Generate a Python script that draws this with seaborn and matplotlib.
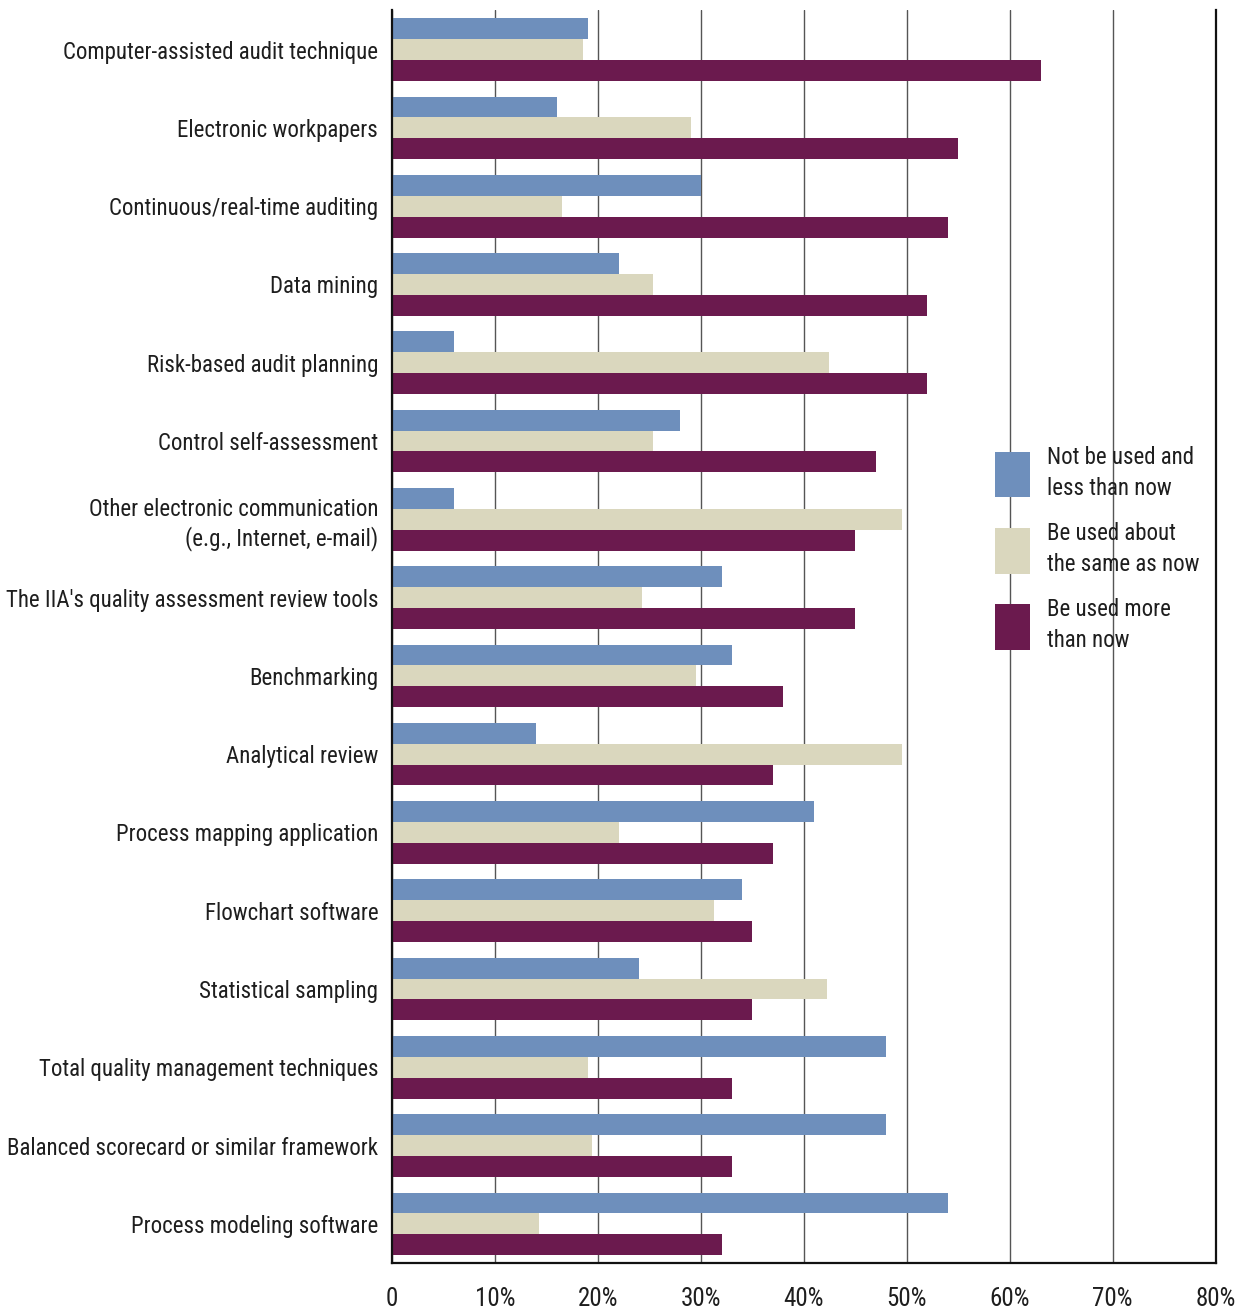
import matplotlib
matplotlib.use("Agg")
import matplotlib.pyplot as plt
import seaborn as sns
import pandas as pd

categories = [
    "Computer-assisted audit technique",
    "Electronic workpapers",
    "Continuous/real-time auditing",
    "Data mining",
    "Risk-based audit planning",
    "Control self-assessment",
    "Other electronic communication\n(e.g., Internet, e-mail)",
    "The IIA's quality assessment review tools",
    "Benchmarking",
    "Analytical review",
    "Process mapping application",
    "Flowchart software",
    "Statistical sampling",
    "Total quality management techniques",
    "Balanced scorecard or similar framework",
    "Process modeling software",
]
series_names = [
    "Not be used and\nless than now",
    "Be used about\nthe same as now",
    "Be used more\nthan now",
]
less_than_now = [19, 16, 30, 22, 6, 28, 6, 32, 33, 14, 41, 34, 24, 48, 48, 54]
same_as_now = [18.5, 29, 16.5, 25.3, 42.4, 25.3, 49.5, 24.3, 29.5, 49.5, 22, 31.3, 42.2, 19, 19.4, 14.3]
more_than_now = [63, 55, 54, 52, 52, 47, 45, 45, 38, 37, 37, 35, 35, 33, 33, 32]
tick_values = [0, 10, 20, 30, 40, 50, 60, 70, 80]
tick_labels = ["0", "10%", "20%", "30%", "40%", "50%", "60%", "70%", "80%"]
colors = ["#6E8FBC", "#DAD7BE", "#6B1A4E"]

rows = []
for name, vals in zip(series_names, [less_than_now, same_as_now, more_than_now]):
    for cat, v in zip(categories, vals):
        rows.append({"category": cat, "series": name, "value": v})
df = pd.DataFrame(rows)

sns.set_theme(style="white")
plt.rcParams["font.family"] = ["Roboto Condensed", "Roboto", "DejaVu Sans"]
plt.rcParams["font.stretch"] = "condensed"

fig = plt.figure(figsize=(12.47, 13.11), dpi=100)
ax = fig.add_axes([0.3144, 0.0366, 0.6605, 0.9554])

sns.barplot(data=df, y="category", x="value", hue="series", orient="h",
            palette=colors, saturation=1, width=0.8, order=categories,
            hue_order=series_names, ax=ax, zorder=2, linewidth=0)

ax.set_xlim(0, 80)
ax.set_xticks(tick_values)
ax.set_xticklabels(tick_labels)
ax.set_xlabel("")
ax.set_ylabel("")
ax.grid(axis="x", color="#555555", linewidth=1.0, zorder=0)
ax.grid(axis="y", visible=False)
ax.set_axisbelow(True)

for side in ["left", "bottom", "right"]:
    ax.spines[side].set_visible(True)
    ax.spines[side].set_color("#111111")
    ax.spines[side].set_linewidth(1.6)
ax.spines["top"].set_visible(False)

ax.tick_params(axis="both", length=0, colors="#1e1e1e")
ax.tick_params(axis="x", pad=17, labelsize=18)
ax.tick_params(axis="y", pad=10, labelsize=16.5)
for lbl in ax.get_yticklabels():
    lbl.set_linespacing(1.28)

handles, labels = ax.get_legend_handles_labels()
ax.legend(handles, labels, loc="upper left", bbox_to_anchor=(0.707, 0.669),
          frameon=False, fontsize=16.5, handlelength=1.53, handleheight=2.65,
          handletextpad=0.74, labelspacing=0.95)
for t in ax.get_legend().get_texts():
    t.set_linespacing(1.46)
    t.set_color("#1e1e1e")

fig.savefig("out.png", dpi=100)
